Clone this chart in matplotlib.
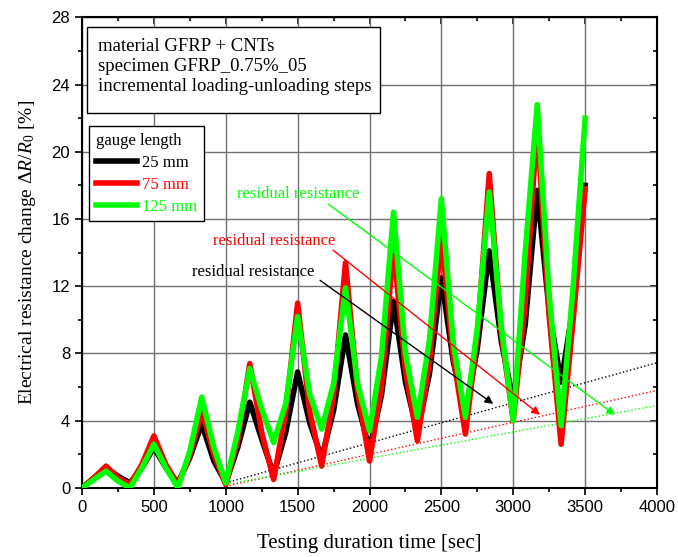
import matplotlib
matplotlib.use("Agg")
import matplotlib.pyplot as plt
from matplotlib.patches import Rectangle
from matplotlib.ticker import MultipleLocator

# Time base (sec), one point per quarter of a loading cycle
time_s = [0, 83, 167, 250, 333, 417, 500, 583, 667, 750, 833, 917, 1000,
          1083, 1167, 1250, 1333, 1417, 1500, 1583, 1667, 1750, 1833, 1917,
          2000, 2083, 2167, 2250, 2333, 2417, 2500, 2583, 2667, 2750, 2833,
          2917, 3000, 3083, 3167, 3250, 3333, 3417, 3500]

dr_25mm = [0.0, 0.6, 1.2, 0.7, 0.3, 1.2, 2.4, 1.2, 0.3, 1.8, 3.8, 1.6, 0.3,
           2.4, 5.1, 2.9, 0.8, 3.3, 6.9, 3.9, 1.8, 4.6, 9.1, 5.0,
           2.3, 5.5, 11.1, 6.3, 3.3, 6.8, 12.5, 7.5, 4.4, 8.3, 14.1,
           8.7, 5.2, 9.7, 17.7, 10.5, 6.3, 10.8, 18.0]

dr_75mm = [0.0, 0.6, 1.3, 0.6, 0.2, 1.4, 3.1, 1.4, 0.2, 1.9, 4.6, 2.0, 0.2,
           2.8, 7.4, 3.3, 0.5, 4.5, 11.0, 4.6, 1.3, 5.5, 13.4, 5.8,
           1.6, 6.0, 14.3, 7.0, 2.8, 7.5, 15.0, 7.8, 3.2, 9.0, 18.7,
           9.2, 4.0, 11.0, 21.6, 10.2, 2.6, 10.0, 17.8]

dr_125mm = [0.0, 0.5, 1.0, 0.4, 0.0, 1.2, 2.6, 1.2, 0.0, 2.2, 5.4, 2.4, 0.3,
            3.3, 7.1, 4.7, 2.7, 5.0, 10.2, 5.6, 3.5, 6.2, 11.9, 6.2,
            3.4, 7.8, 16.4, 8.0, 4.2, 8.8, 17.2, 8.6, 4.2, 9.5, 17.6,
            9.6, 4.0, 14.0, 22.8, 11.5, 3.7, 12.0, 22.0]

# residual resistance trend lines (start, end)
resid_t = [1000, 4000]
resid_25mm = [0.3, 7.45]
resid_75mm = [0.1, 5.8]
resid_125mm = [0.2, 4.9]

# annotation arrows: text pos, arrow start, arrow end
note_text = [(1190, 12.85), (1336, 14.7), (1503, 17.5)]
note_start = [(1656, 12.35), (1746, 14.15), (1711, 16.9)]
note_end = [(2861, 5.0), (3186, 4.35), (3708, 4.35)]

labels = ['25 mm', '75 mm', '125 mm']
colors = ['black', 'red', '#00ff00']

plt.rcParams['font.family'] = 'Liberation Serif'
plt.rcParams['mathtext.fontset'] = 'custom'
plt.rcParams['mathtext.rm'] = 'Liberation Serif'
plt.rcParams['mathtext.it'] = 'Liberation Serif:italic'

fig = plt.figure(figsize=(6.78, 5.57), dpi=100)
ax = fig.add_axes([0.121, 0.124, 0.848, 0.845])

ax.set_xlim(0, 4000)
ax.set_ylim(0, 28)
ax.xaxis.set_major_locator(MultipleLocator(500))
ax.xaxis.set_minor_locator(MultipleLocator(250))
ax.yaxis.set_major_locator(MultipleLocator(4))
ax.yaxis.set_minor_locator(MultipleLocator(2))
ax.grid(True, which='major', color='#707070', linewidth=1.0, zorder=0)
ax.set_axisbelow(True)

ax.tick_params(which='both', direction='out', top=False, right=False,
               labelsize=12, width=1.2)
ax.tick_params(which='major', length=5)
ax.tick_params(which='minor', length=3)
for lab in ax.get_xticklabels() + ax.get_yticklabels():
    lab.set_family('Liberation Sans')
for sp in ax.spines.values():
    sp.set_linewidth(1.5)

# inward ticks on top and right
top = ax.secondary_xaxis('top')
top.xaxis.set_major_locator(MultipleLocator(500))
top.xaxis.set_minor_locator(MultipleLocator(250))
top.tick_params(which='both', direction='in', labeltop=False, width=1.2)
top.tick_params(which='major', length=5)
top.tick_params(which='minor', length=3)
right = ax.secondary_yaxis('right')
right.yaxis.set_major_locator(MultipleLocator(4))
right.yaxis.set_minor_locator(MultipleLocator(2))
right.tick_params(which='both', direction='in', labelright=False, width=1.2)
right.tick_params(which='major', length=5)
right.tick_params(which='minor', length=3)

# residual dotted lines
for vals, c in zip([resid_25mm, resid_75mm, resid_125mm], colors):
    ax.plot(resid_t, vals, color=c, linestyle=':', linewidth=1.0, zorder=2)

# main curves
handles = []
for vals, c, lab in zip([dr_25mm, dr_75mm, dr_125mm], colors, labels):
    h, = ax.plot(time_s, vals, color=c, linewidth=4, solid_joinstyle='round',
                 label=lab, zorder=3)
    handles.append(h)

# annotations
for (tx, ty), s, e, c in zip(note_text, note_start, note_end, colors):
    ax.text(tx, ty, 'residual resistance', color=c, fontsize=12,
            ha='center', va='center', zorder=5)
    ax.annotate('', xy=e, xytext=s,
                arrowprops=dict(arrowstyle='-|>', color=c, lw=1.0,
                                mutation_scale=12, shrinkA=0, shrinkB=0),
                zorder=4)

# info box
ax.add_patch(Rectangle((0.0087, 0.796), 0.51, 0.183, transform=ax.transAxes,
                       facecolor='white', edgecolor='black', linewidth=1.0,
                       zorder=6))
ax.text(0.028, 0.957, 'material GFRP + CNTs\nspecimen GFRP_0.75%_05\n'
        'incremental loading-unloading steps', transform=ax.transAxes,
        fontsize=13.5, va='top', ha='left', linespacing=1.25, zorder=7)

leg = ax.legend(handles=handles, title='gauge length', loc='upper left',
                bbox_to_anchor=(0.012, 0.768), borderaxespad=0, fontsize=12,
                title_fontsize=12, handlelength=2.5, handletextpad=0.3,
                labelspacing=0.35, fancybox=False, framealpha=1,
                edgecolor='black', labelcolor='linecolor', borderpad=0.4)
leg._legend_box.align = 'left'
leg.get_frame().set_linewidth(1.0)
leg.set_zorder(8)

ax.set_xlabel('Testing duration time [sec]', fontsize=15, labelpad=14)
ax.set_ylabel(r'Electrical resistance change $\Delta R/R_0$ [%]',
              fontsize=14, labelpad=10)

fig.savefig('out.png', dpi=100)
plt.close(fig)
